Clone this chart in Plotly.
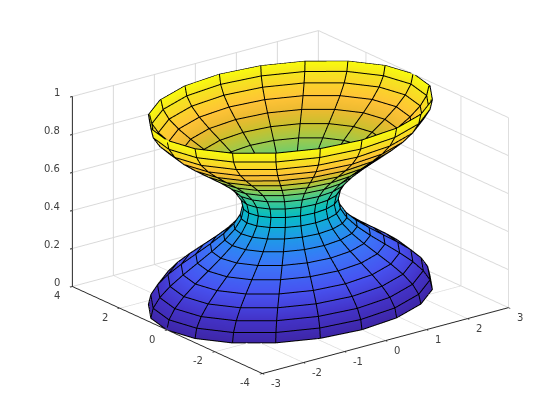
import numpy as np
import plotly.graph_objects as go

# Radius of each ring, bottom to top
radius = [3.0, 2.95, 2.81, 2.59, 2.31, 2.0, 1.69, 1.41, 1.19, 1.05, 1.0,
          1.05, 1.19, 1.41, 1.69, 2.0, 2.31, 2.59, 2.81, 2.95, 3.0]
height = [0.0, 0.05, 0.1, 0.15, 0.2, 0.25, 0.3, 0.35, 0.4, 0.45, 0.5,
          0.55, 0.6, 0.65, 0.7, 0.75, 0.8, 0.85, 0.9, 0.95, 1.0]
angle_deg = [0, 18, 36, 54, 72, 90, 108, 126, 144, 162, 180,
             198, 216, 234, 252, 270, 288, 306, 324, 342, 360]
x_ticks = [-3, -2, -1, 0, 1, 2, 3]
y_ticks = [-4, -2, 0, 2, 4]
z_ticks = [0, 0.2, 0.4, 0.6, 0.8, 1]
color_stops = [0, 0.1, 0.2, 0.3, 0.35, 0.4, 0.45, 0.5, 0.55, 0.6, 0.65, 0.7, 0.75, 0.8, 0.85, 0.9, 0.95, 1]
parula = ["#3e26a8", "#4333c8", "#4752f0", "#3b76f8", "#2c87f2", "#1f9ae8", "#12aed8", "#08bcc4", "#20c4a8",
          "#45c98f", "#6fcd6c", "#a0c94b", "#c8c12e", "#ebba30", "#ffc337", "#fbd42a", "#f5e51f", "#f9fb0e"]

th = np.radians(angle_deg)
R, A = np.meshgrid(radius, th, indexing="ij")
X, Y = R * np.cos(A), R * np.sin(A)
Z = np.repeat(np.array(height)[:, None], len(th), axis=1)
nz, na = X.shape
ids = np.arange(nz * na).reshape(nz, na)
i, j, k = [], [], []
for a in range(nz - 1):
    for b in range(na - 1):
        i += [ids[a, b], ids[a, b]]
        j += [ids[a, b + 1], ids[a + 1, b + 1]]
        k += [ids[a + 1, b + 1], ids[a + 1, b]]

fig = go.Figure()
fig.add_trace(go.Mesh3d(x=X.ravel(), y=Y.ravel(), z=Z.ravel(), i=i, j=j, k=k,
                        intensity=Z.ravel(), intensitymode="vertex", cmin=0, cmax=1,
                        colorscale=list(map(list, zip(color_stops, parula))),
                        showscale=False, flatshading=True,
                        lighting=dict(ambient=1, diffuse=0, specular=0, fresnel=0, roughness=1),
                        hoverinfo="skip"))

# Mesh lines, laid just off both faces of the sheet so they do not z-fight with it
sx, sz = 1.475 / 6, 0.966
dr = np.gradient(np.array(radius) * sx)
dz = np.gradient(np.array(height) * sz)
nrm = np.hypot(dr, dz)
off = 0.003
lx, ly, lz = [], [], []
for sgn in (1, -1):
    rr = np.array(radius) + sgn * off * (dz / nrm) / sx
    hh = np.array(height) - sgn * off * (dr / nrm) / sz
    RR, AA = np.meshgrid(rr, th, indexing="ij")
    XX, YY = RR * np.cos(AA), RR * np.sin(AA)
    ZZ = np.repeat(hh[:, None], len(th), axis=1)
    for a in range(nz):
        lx += list(XX[a]) + [None]; ly += list(YY[a]) + [None]; lz += list(ZZ[a]) + [None]
    for b in range(na - 1):
        lx += list(XX[:, b]) + [None]; ly += list(YY[:, b]) + [None]; lz += list(ZZ[:, b]) + [None]
fig.add_trace(go.Scatter3d(x=lx, y=ly, z=lz, mode="lines",
                           line=dict(color="black", width=2), hoverinfo="skip", showlegend=False))

def axis(vals, rng):
    return dict(title="", range=rng, tickvals=vals, showticklabels=False,
                showbackground=False, showgrid=True, gridcolor="#d9d9d9", gridwidth=2,
                zeroline=False, showline=True, linecolor="#262626", linewidth=2,
                ticks="outside", ticklen=3, tickcolor="#262626", tickwidth=2,
                showspikes=False)

font = dict(family="DejaVu Sans", size=10, color="#404040")
notes = []
for v in z_ticks:
    notes.append(dict(x=-3, y=4, z=v, text=f"{v:g}", showarrow=False, font=font,
                      xanchor="right", yanchor="middle", xshift=-10, yshift=4))
for v in y_ticks:
    notes.append(dict(x=-3, y=v, z=0, text=f"{v:g}", showarrow=False, font=font,
                      xanchor="right", yanchor="middle", xshift=-10, yshift=-9))
for v in x_ticks:
    notes.append(dict(x=v, y=-4, z=0, text=f"{v:g}", showarrow=False, font=font,
                      xanchor="center", yanchor="middle", xshift=14 if v < 0 else 12, yshift=-10))

az, el = np.radians(37.4), np.radians(20.5)
d = 2.0
cz = -0.081
t = 0.0115
cx, cy = -t * np.cos(az), t * np.sin(az)
fig.update_layout(
    width=560, height=420, margin=dict(l=0, r=0, t=0, b=0), paper_bgcolor="white",
    showlegend=False,
    scene=dict(
        xaxis=axis(x_ticks, [-3, 3]), yaxis=axis(y_ticks, [-4, 4]), zaxis=axis(z_ticks, [0, 1]),
        aspectmode="manual", aspectratio=dict(x=1.475, y=1.49, z=0.966),
        domain=dict(x=[0, 1], y=[0, 1]), annotations=notes,
        camera=dict(projection=dict(type="orthographic"),
                    eye=dict(x=cx - d * np.sin(az) * np.cos(el), y=cy - d * np.cos(az) * np.cos(el), z=d * np.sin(el) + cz),
                    center=dict(x=cx, y=cy, z=cz), up=dict(x=0, y=0, z=1))))
fig.write_html("out.html")
